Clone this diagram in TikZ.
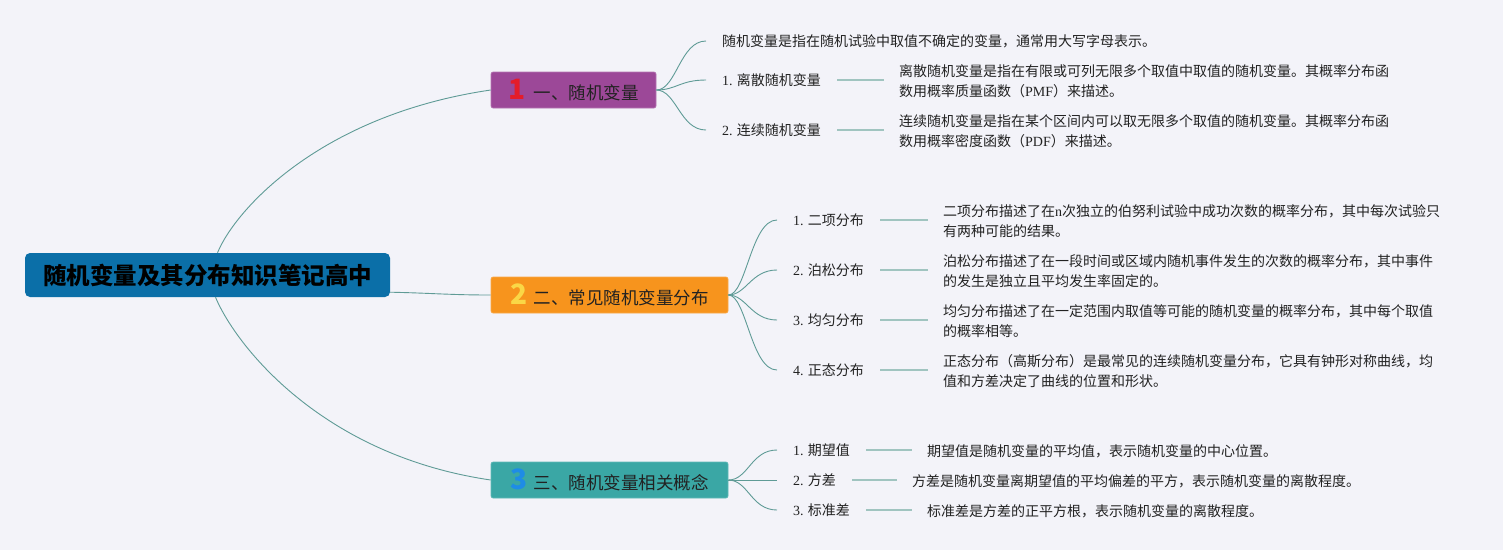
\documentclass[tikz,border=0pt]{standalone}
\usepackage{fontspec}
\setmainfont{Noto Sans CJK SC}
\newfontfamily\latn{Liberation Serif}
\usetikzlibrary{calc}
\definecolor{bgc}{RGB}{243,243,249}
\definecolor{rootc}{RGB}{11,111,168}
\definecolor{c1}{RGB}{156,72,152}
\definecolor{c2}{RGB}{247,148,29}
\definecolor{c3}{RGB}{58,167,165}
\definecolor{ic1}{RGB}{228,28,42}
\definecolor{ic2}{RGB}{250,215,70}
\definecolor{ic3}{RGB}{30,140,230}
\definecolor{curvec}{RGB}{95,155,150}
\definecolor{stemc}{RGB}{160,196,192}
\definecolor{txt}{RGB}{34,34,34}
\newcommand{\en}[1]{{\latn #1}}
\newcommand{\ico}[2]{\textcolor{#1}{\bfseries\fontsize{28}{28}\selectfont #2}}
\begin{document}
\begin{tikzpicture}[x=1pt,y=-1pt,
  topic/.style={rounded corners=2pt, inner sep=0pt, minimum height=36pt, text=txt, font=\fontsize{17.5}{20}\selectfont},
  lbl/.style={anchor=west, inner xsep=16pt, inner ysep=2pt, font=\fontsize{14}{18}\selectfont, text=txt},
  desc/.style={anchor=west, inner xsep=15pt, inner ysep=2pt, align=left, font=\fontsize{14}{20}\selectfont, text=txt},
  curve/.style={draw=curvec, line width=0.9pt},
  stem/.style={draw=stemc, line width=1.6pt}]
\fill[bgc] (0,0) rectangle (1503,550);
\useasboundingbox (0,0) rectangle (1503,550);

% root
\node[rounded corners=5pt, fill=rootc, minimum width=365pt, minimum height=44pt, inner sep=0pt,
      font=\fontsize{23.5}{26}\selectfont\bfseries, text=black] (root) at (207.5,275) {随机变量及其分布知识笔记高中};

% main topics
\node[topic, fill=c1, draw=c1!75!white, line width=0.6pt, minimum width=165pt] (n1) at (573.5,90) {\ico{ic1}{1}\hspace{8pt}一、随机变量};
\node[topic, fill=c2, draw=c2!80!white, line width=0.6pt, minimum width=237pt] (n2) at (609.5,295) {\ico{ic2}{2}\hspace{6pt}二、常见随机变量分布};
\node[topic, fill=c3, draw=c3!80!white, line width=0.6pt, minimum width=237pt] (n3) at (609.5,480) {\ico{ic3}{3}\hspace{6pt}三、随机变量相关概念};

% root connectors
\draw[curve] ($(root.north)+(10,0)$) .. controls (235,210) and (320,115) .. (n1.west);
\draw[curve] ($(root.south east)+(0,-5)$) .. controls (430,293) and (450,295) .. (n2.west);
\draw[curve] ($(root.south)+(8,0)$) .. controls (235,344) and (320,455) .. (n3.west);

% topic 1
\node[lbl] (a0) at (706,41) {随机变量是指在随机试验中取值不确定的变量，通常用大写字母表示。};
\node[lbl] (a1) at (706,80) {\en{1.} 离散随机变量};
\node[lbl] (a2) at (706,130) {\en{2.} 连续随机变量};
\node[desc] (d1) at (884,81.5) {离散随机变量是指在有限或可列无限多个取值中取值的随机变量。其概率分布函\\数用概率质量函数（\en{PMF}）来描述。};
\node[desc] (d2) at (884,131) {连续随机变量是指在某个区间内可以取无限多个取值的随机变量。其概率分布函\\数用概率密度函数（\en{PDF}）来描述。};
\foreach \t in {a0,a1,a2}
  \draw[curve] (n1.east) .. controls +(20,0) and +(-26,0) .. (\t.west);
\draw[stem] (a1.east) -- (a1.east -| d1.west);
\draw[stem] (a2.east) -- (a2.east -| d2.west);

% topic 2
\node[lbl] (b1) at (777,220) {\en{1.} 二项分布};
\node[lbl] (b2) at (777,270) {\en{2.} 泊松分布};
\node[lbl] (b3) at (777,320) {\en{3.} 均匀分布};
\node[lbl] (b4) at (777,370) {\en{4.} 正态分布};
\node[desc] (e1) at (928,221) {二项分布描述了在\en{n}次独立的伯努利试验中成功次数的概率分布，其中每次试验只\\有两种可能的结果。};
\node[desc] (e2) at (928,271) {泊松分布描述了在一段时间或区域内随机事件发生的次数的概率分布，其中事件\\的发生是独立且平均发生率固定的。};
\node[desc] (e3) at (928,321) {均匀分布描述了在一定范围内取值等可能的随机变量的概率分布，其中每个取值\\的概率相等。};
\node[desc] (e4) at (928,371) {正态分布（高斯分布）是最常见的连续随机变量分布，它具有钟形对称曲线，均\\值和方差决定了曲线的位置和形状。};
\foreach \t in {b1,b2,b3,b4}
  \draw[curve] (n2.east) .. controls +(18,0) and +(-26,0) .. (\t.west);
\draw[stem] (b1.east) -- (b1.east -| e1.west);
\draw[stem] (b2.east) -- (b2.east -| e2.west);
\draw[stem] (b3.east) -- (b3.east -| e3.west);
\draw[stem] (b4.east) -- (b4.east -| e4.west);

% topic 3
\node[lbl] (c1) at (777,450) {\en{1.} 期望值};
\node[lbl] (c2) at (777,480) {\en{2.} 方差};
\node[lbl] (c3) at (777,510) {\en{3.} 标准差};
\node[desc] (f1) at (912,451) {期望值是随机变量的平均值，表示随机变量的中心位置。};
\node[desc] (f2) at (897,481) {方差是随机变量离期望值的平均偏差的平方，表示随机变量的离散程度。};
\node[desc] (f3) at (912,511) {标准差是方差的正平方根，表示随机变量的离散程度。};
\foreach \t in {c1,c2,c3}
  \draw[curve] (n3.east) .. controls +(20,0) and +(-26,0) .. (\t.west);
\draw[stem] (c1.east) -- (c1.east -| f1.west);
\draw[stem] (c2.east) -- (c2.east -| f2.west);
\draw[stem] (c3.east) -- (c3.east -| f3.west);
\end{tikzpicture}
\end{document}
